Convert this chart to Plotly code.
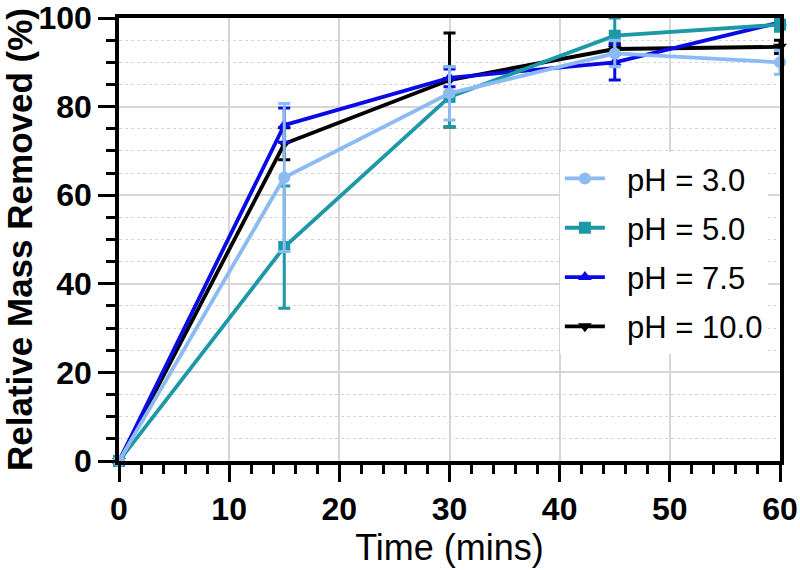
import plotly.graph_objects as go

time_min = [0, 15, 30, 45, 60]

ph3_mean = [0, 64.0, 83.0, 92.0, 90.0]
ph3_err = [0, 16.7, 6.0, 3.0, 2.7]

ph5_mean = [0, 48.3, 82.2, 96.0, 98.5]
ph5_err = [0, 13.8, 6.8, 4.0, 1.5]

ph75_mean = [0, 75.8, 86.5, 90.0, 99.0]
ph75_err = [0, 3.9, 2.0, 4.0, 1.0]

ph10_mean = [0, 71.6, 86.0, 93.0, 93.5]
ph10_err = [0, 3.6, 10.6, 1.2, 1.5]

series = [
    # drawn bottom to top
    ("pH = 10.0", ph10_mean, ph10_err, "#000000", "triangle-down", 4),
    ("pH = 7.5", ph75_mean, ph75_err, "#0a0ae6", "triangle-up", 3),
    ("pH = 5.0", ph5_mean, ph5_err, "#1c98a6", "square", 2),
    ("pH = 3.0", ph3_mean, ph3_err, "#8cbaf2", "circle", 1),
]

FONT = "Liberation Sans, Arial, sans-serif"

fig = go.Figure()
for name, y, err, color, sym, rank in series:
    fig.add_trace(go.Scatter(
        x=time_min, y=y, name="\u00a0\u00a0" + name, mode="lines+markers",
        line=dict(color=color, width=3.8),
        marker=dict(color=color, symbol=sym, size=12, line=dict(width=0)),
        error_y=dict(type="data", array=err, visible=True, color=color,
                     thickness=3, width=6),
        cliponaxis=False, legendrank=rank, legendgroup=name,
    ))

fig.update_layout(
    width=800, height=570,
    margin=dict(l=119, r=20, t=18, b=109),
    plot_bgcolor="white", paper_bgcolor="white",
    font=dict(family=FONT, color="black"),
    showlegend=True,
    legend=dict(x=0.667, y=0.698, xanchor="left", yanchor="top",
                bgcolor="white", font=dict(size=31), tracegroupgap=6,
                itemwidth=40),
)

fig.update_xaxes(
    range=[0, 60], dtick=10, tick0=0, automargin=False,
    showline=True, linecolor="black", linewidth=3.5, mirror=True,
    ticks="outside", ticklen=17, tickwidth=3, tickcolor="black",
    tickfont=dict(size=32, family=FONT, weight="bold"),
    showgrid=True, gridcolor="#d6d6d6", gridwidth=1.5,
    minor=dict(dtick=2, ticks="outside", ticklen=9, tickwidth=3, tickcolor="black", showgrid=False),
    title=dict(text="Time (mins)", font=dict(size=36), standoff=6),
    zeroline=False,
)
fig.update_yaxes(
    range=[0, 100], dtick=20, tick0=0, automargin=False,
    showline=True, linecolor="black", linewidth=3.5, mirror=True,
    ticks="outside", ticklen=17, tickwidth=3, tickcolor="black",
    tickfont=dict(size=32, family=FONT, weight="bold"),
    showgrid=True, gridcolor="#d6d6d6", gridwidth=1.5,
    minor=dict(dtick=5, ticks="outside", ticklen=9, tickwidth=3, tickcolor="black",
               showgrid=True, gridcolor="#d6d6d6", griddash="dot", gridwidth=1),
    title=dict(text="<b>Relative Mass Removed (%)</b>", font=dict(size=35), standoff=8),
    zeroline=False,
)

fig.write_html(
    "out.html",
    config={"displayModeBar": False},
    post_script="document.body.style.margin='0';document.body.style.overflow='hidden';",
)
